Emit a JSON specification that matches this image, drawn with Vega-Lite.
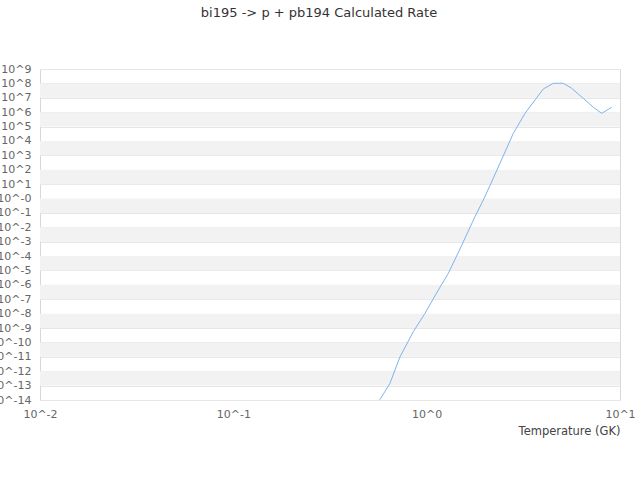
{
  "$schema": "https://vega.github.io/schema/vega-lite/v6.json",
  "autosize": "none",
  "width": 580,
  "height": 331,
  "padding": {"left": 40, "top": 69, "right": 20, "bottom": 80},
  "background": "white",
  "config": {
    "view": {"stroke": "#d8d8d8", "strokeWidth": 1},
    "font": "DejaVu Sans"
  },
  "title": {
    "text": "bi195 -> p + pb194 Calculated Rate",
    "fontSize": 13,
    "fontWeight": "normal",
    "color": "#333333",
    "font": "DejaVu Sans",
    "anchor": "middle",
    "offset": 43,
    "dx": -11
  },
  "datasets": {
    "bands": [
      {"hi": 1e8, "lo": 1e7},
      {"hi": 1e6, "lo": 1e5},
      {"hi": 1e4, "lo": 1e3},
      {"hi": 1e2, "lo": 1e1},
      {"hi": 1e0, "lo": 1e-1},
      {"hi": 1e-2, "lo": 1e-3},
      {"hi": 1e-4, "lo": 1e-5},
      {"hi": 1e-6, "lo": 1e-7},
      {"hi": 1e-8, "lo": 1e-9},
      {"hi": 1e-10, "lo": 1e-11},
      {"hi": 1e-12, "lo": 1e-13}
    ],
    "rate": [
      {"T": 0.5, "rate": 6e-16},
      {"T": 0.574, "rate": 1.1e-14},
      {"T": 0.646, "rate": 1.45e-13},
      {"T": 0.728, "rate": 1.0e-11},
      {"T": 0.853, "rate": 5.6e-10},
      {"T": 0.98, "rate": 1.05e-8},
      {"T": 1.149, "rate": 4.4e-7},
      {"T": 1.294, "rate": 6.3e-6},
      {"T": 1.487, "rate": 3.1e-4},
      {"T": 1.778, "rate": 5.5e-2},
      {"T": 1.963, "rate": 0.79},
      {"T": 2.17, "rate": 14.8},
      {"T": 2.395, "rate": 282},
      {"T": 2.806, "rate": 33900},
      {"T": 3.227, "rate": 832000},
      {"T": 3.635, "rate": 7.1e6},
      {"T": 4.012, "rate": 4.1e7},
      {"T": 4.52, "rate": 1.02e8},
      {"T": 5.09, "rate": 1.02e8},
      {"T": 5.62, "rate": 4.6e7},
      {"T": 6.46, "rate": 9.1e6},
      {"T": 7.28, "rate": 2.2e6},
      {"T": 8.04, "rate": 8.3e5},
      {"T": 9.06, "rate": 2.2e6}
    ]
  },
  "layer": [
    {
      "data": {"name": "bands"},
      "mark": {"type": "rect", "color": "#f2f2f2"},
      "encoding": {
        "y": {"field": "hi", "type": "quantitative", "scale": {"type": "log", "domain": [1e-14, 1e9], "nice": false}},
        "y2": {"field": "lo"}
      }
    },
    {
      "data": {"name": "rate"},
      "mark": {"type": "line", "color": "#7cb5ec", "strokeWidth": 1, "clip": true},
      "encoding": {
        "x": {
          "field": "T",
          "type": "quantitative",
          "scale": {"type": "log", "domain": [0.01, 10], "nice": false},
          "axis": {
            "values": [0.01, 0.1, 1, 10],
            "labelExpr": "'10^' + round(log(datum.value)/LN10)",
            "grid": false,
            "ticks": false,
            "domain": false,
            "labelColor": "#666666",
            "labelFontSize": 11,
            "labelPadding": 8,
            "labelOverlap": false,
            "labelFlush": false,
            "title": "Temperature (GK)",
            "titleAnchor": "end",
            "titleFontWeight": "normal",
            "titleFontSize": 11.5,
            "titleColor": "#444444",
            "titlePadding": 6
          }
        },
        "y": {
          "field": "rate",
          "type": "quantitative",
          "scale": {"type": "log", "domain": [1e-14, 1e9], "nice": false},
          "axis": {
            "values": [1e-14, 1e-13, 1e-12, 1e-11, 1e-10, 1e-9, 1e-8, 1e-7, 1e-6, 1e-5, 1e-4, 1e-3, 1e-2, 1e-1, 1, 10, 100, 1e3, 1e4, 1e5, 1e6, 1e7, 1e8, 1e9],
            "labelExpr": "datum.value == 1 ? '10^-0' : '10^' + round(log(datum.value)/LN10)",
            "grid": true,
            "gridColor": "#e6e6e6",
            "ticks": false,
            "domain": false,
            "labelColor": "#666666",
            "labelFontSize": 11,
            "labelPadding": 9,
            "labelOverlap": false,
            "title": null
          }
        }
      }
    }
  ]
}
